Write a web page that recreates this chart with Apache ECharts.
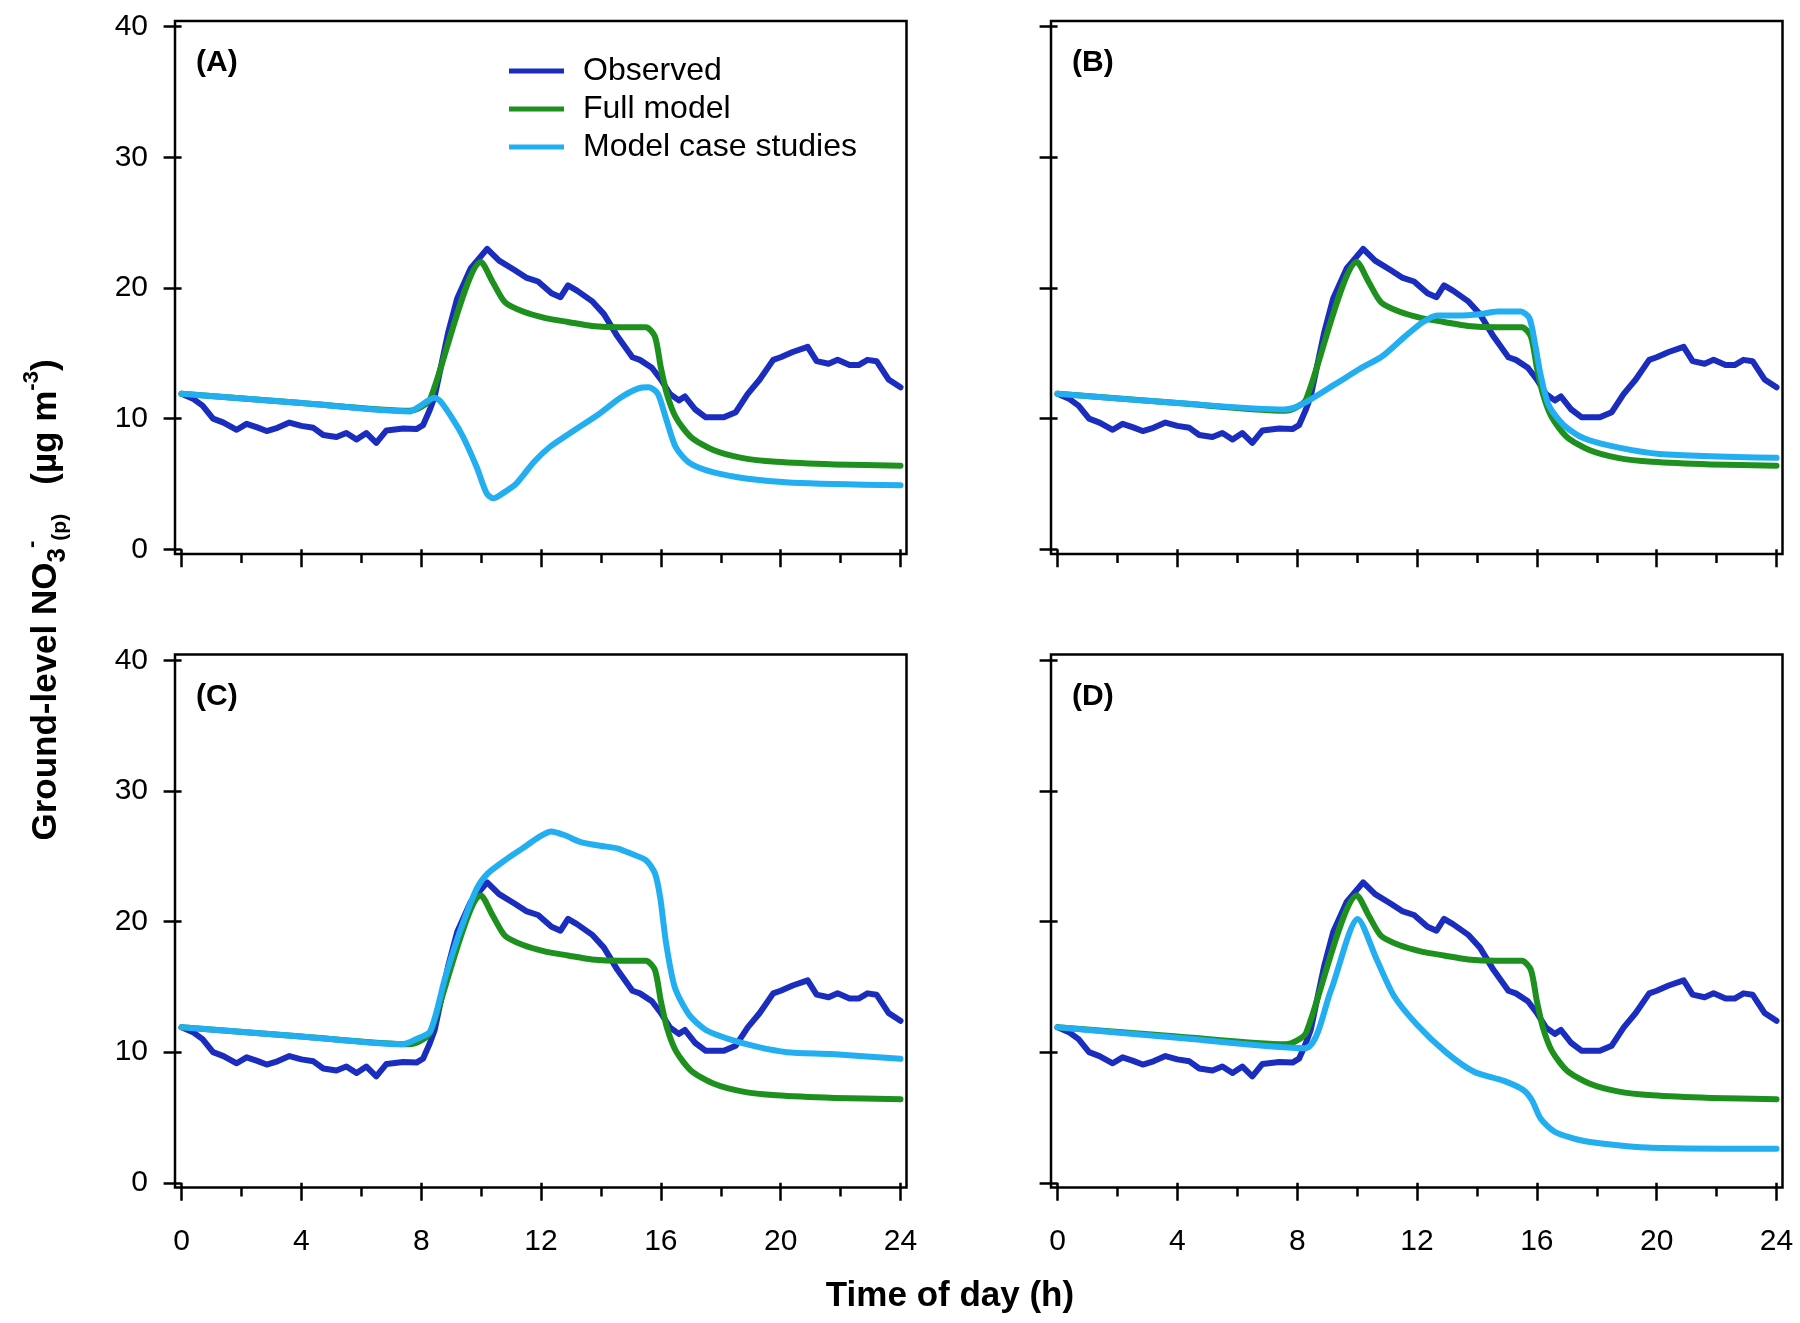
<!DOCTYPE html>
<html>
<head>
<meta charset="utf-8">
<script src="https://cdn.jsdelivr.net/npm/echarts@6/dist/echarts.min.js"></script>
<style>
html,body{margin:0;padding:0;background:#fff}
#main{width:1800px;height:1323px}
</style>
</head>
<body>
<div id="main"></div>
<script>
// observed (same in all 4 panels)
var obsHours  = [0, 0.4, 0.7, 1.05, 1.4, 1.84, 2.17, 2.5, 2.84, 3.2, 3.6, 4.0, 4.4, 4.73, 5.17, 5.5, 5.84, 6.17, 6.5, 6.84, 7.4, 7.84, 8.06, 8.29, 8.45, 8.9, 9.2, 9.65, 10.2, 10.6, 11.1, 11.5, 11.9, 12.35, 12.65, 12.9, 13.2, 13.7, 14.1, 14.55, 15.05, 15.3, 15.7, 16.0, 16.3, 16.6, 16.8, 17.15, 17.5, 18.1, 18.5, 18.9, 19.3, 19.75, 20.0, 20.4, 20.9, 21.2, 21.6, 21.9, 22.3, 22.6, 22.9, 23.2, 23.6, 24.0];
var obsValues = [11.9, 11.5, 11.0, 10.0, 9.7, 9.15, 9.6, 9.35, 9.05, 9.3, 9.7, 9.45, 9.3, 8.75, 8.6, 8.9, 8.4, 8.9, 8.15, 9.1, 9.25, 9.2, 9.5, 10.7, 11.7, 16.6, 19.2, 21.5, 23.0, 22.1, 21.4, 20.8, 20.5, 19.6, 19.3, 20.2, 19.8, 19.0, 18.0, 16.3, 14.7, 14.5, 13.9, 13.0, 11.9, 11.4, 11.7, 10.7, 10.1, 10.1, 10.5, 11.9, 13.0, 14.5, 14.7, 15.1, 15.5, 14.4, 14.2, 14.5, 14.1, 14.1, 14.5, 14.4, 13.0, 12.4];

// full model (same in all 4 panels)
var fullHours  = [0, 4, 7.6, 8.0, 8.3, 10.0, 10.4, 10.8, 11.4, 12.15, 12.9, 13.7, 14.65, 15.5, 15.8, 16.0, 16.2, 16.5, 17.0, 17.75, 18.7, 19.85, 21.8, 24];
var fullValues = [11.9, 11.2, 10.6, 10.9, 11.5, 22.0, 20.4, 18.9, 18.2, 17.7, 17.4, 17.1, 17.0, 17.0, 16.3, 13.9, 11.9, 10.1, 8.6, 7.6, 7.0, 6.7, 6.5, 6.4];

// model case studies, one per panel
var caseAHours  = [0, 4, 7.6, 7.85, 8.45, 8.65, 9.1, 9.4, 9.85, 10.18, 10.4, 10.73, 11.18, 11.77, 12.3, 13.1, 13.9, 14.65, 15.23, 15.6, 15.9, 16.2, 16.5, 16.96, 17.73, 18.9, 20.4, 24];
var caseAValues = [11.9, 11.2, 10.55, 10.8, 11.6, 11.3, 9.8, 8.6, 6.3, 4.3, 3.9, 4.3, 5.05, 6.7, 7.85, 9.1, 10.3, 11.6, 12.3, 12.4, 11.9, 9.8, 7.8, 6.6, 5.9, 5.4, 5.1, 4.9];

var caseBHours  = [0, 4, 7.58, 8.16, 9.31, 10.08, 10.85, 11.6, 12.2, 12.67, 13.35, 14.1, 14.7, 15.46, 15.75, 15.94, 16.13, 16.4, 16.9, 17.57, 18.7, 20.1, 24];
var caseBValues = [11.9, 11.2, 10.7, 11.1, 12.7, 13.8, 14.8, 16.3, 17.4, 17.9, 17.9, 18.0, 18.2, 18.2, 17.7, 15.7, 13.3, 11.0, 9.5, 8.5, 7.8, 7.3, 7.0];

var caseCHours  = [0, 4, 7.36, 7.84, 8.3, 8.8, 9.27, 9.85, 10.23, 10.8, 11.38, 11.95, 12.34, 12.8, 13.3, 13.97, 14.54, 15.0, 15.5, 15.8, 15.98, 16.17, 16.46, 16.93, 17.5, 18.28, 19.23, 20.2, 21.7, 24];
var caseCValues = [11.9, 11.2, 10.6, 11.0, 11.6, 15.7, 19.1, 22.5, 23.7, 24.7, 25.6, 26.5, 26.9, 26.6, 26.1, 25.8, 25.6, 25.2, 24.7, 23.7, 21.8, 18.4, 15.0, 12.9, 11.7, 11.0, 10.4, 10.0, 9.85, 9.5];

var caseDHours  = [0, 4, 8.26, 9.12, 10.02, 10.66, 11.23, 12.0, 12.96, 13.9, 14.9, 15.55, 15.84, 16.13, 16.6, 17.57, 19.68, 24];
var caseDValues = [11.9, 11.1, 10.3, 14.7, 20.2, 17.05, 14.3, 12.1, 10.0, 8.5, 7.8, 7.1, 6.3, 4.9, 3.9, 3.2, 2.7, 2.6];

var xMajorTicks = [0, 4, 8, 12, 16, 20, 24];
var xMinorTicks = [2, 6, 10, 14, 18, 22];
var yTicks = [0, 10, 20, 30, 40];
var panelNames = ['(A)', '(B)', '(C)', '(D)'];
var seriesNames = ['Observed', 'Full model', 'Model case studies'];

var caseHours = [caseAHours, caseBHours, caseCHours, caseDHours];
var caseValues = [caseAValues, caseBValues, caseCValues, caseDValues];

var FONT = '"Liberation Sans", Arial, sans-serif';
var colors = ['#1a2dbf', '#1e901e', '#22aef0'];

// panel frame layout
var gridPos = [[175, 21], [1051, 21], [175, 654.5], [1051, 654.5]];
var gridW = 731.5, gridH = 533;

function pairs(h, v){
	var out = [];
	for (var i = 0; i < h.length; i++){
		out.push([h[i], v[i]]);
	}
	return out;
}

var grids = [], xAxes = [], yAxes = [], series = [], graphics = [];
for (var p = 0; p < 4; p++){
	var isLeft = (p % 2 == 0);
	var isBottom = (p >= 2);
	grids.push({
		left: gridPos[p][0], top: gridPos[p][1], width: gridW, height: gridH,
		show: true, borderColor: '#000', borderWidth: 2.5, backgroundColor: 'transparent'
	});
	// major x ticks (+ labels on bottom row)
	xAxes.push({
		gridIndex: p, type: 'value', position: 'bottom', min: -0.22, max: 24.2,
		axisLine: {show: false}, splitLine: {show: false},
		axisTick: {show: true, inside: false, length: 18, customValues: xMajorTicks, lineStyle: {color: '#000', width: 2.5}},
		axisLabel: {show: isBottom, customValues: xMajorTicks, margin: 39, fontSize: 30, color: '#000', fontFamily: FONT}
	});
	// minor x ticks
	xAxes.push({
		gridIndex: p, type: 'value', position: 'bottom', min: -0.22, max: 24.2,
		axisLine: {show: false}, splitLine: {show: false},
		axisTick: {show: true, inside: false, length: 9, customValues: xMinorTicks, lineStyle: {color: '#000', width: 2.5}},
		axisLabel: {show: false}
	});
	yAxes.push({
		gridIndex: p, type: 'value', min: -0.36, max: 40.44,
		axisLine: {show: false}, splitLine: {show: false},
		axisTick: {show: true, inside: false, length: 18, customValues: yTicks, lineStyle: {color: '#000', width: 2.5}},
		axisLabel: {show: isLeft, customValues: yTicks, margin: 27, fontSize: 30, color: '#000', fontFamily: FONT}
	});
	var sets = [pairs(obsHours, obsValues), pairs(fullHours, fullValues), pairs(caseHours[p], caseValues[p])];
	for (var s = 0; s < 3; s++){
		series.push({
			name: seriesNames[s], type: 'line',
			xAxisIndex: p * 2, yAxisIndex: p,
			data: sets[s], symbol: 'none',
			smooth: s == 0 ? false : 0.25,
			z: 2 + s,
			lineStyle: {color: colors[s], width: 6, join: 'round', cap: 'round'},
			itemStyle: {color: colors[s]},
			silent: true, animation: false
		});
	}
	graphics.push({
		type: 'text', left: gridPos[p][0] + 21, top: gridPos[p][1] + 27,
		style: {text: panelNames[p], fontSize: 30, fontWeight: 'bold', fontFamily: FONT, fill: '#000'}
	});
}

// y axis title with sub/superscripts
graphics.push({
	type: 'text', x: 46, y: 600, rotation: Math.PI / 2,
	style: {
		text: 'Ground-level NO{sub|3}{sup|-}{subs|(p)}   (µg m{sup|-3})',
		align: 'center', verticalAlign: 'middle',
		fontSize: 35, fontWeight: 'bold', fontFamily: FONT, fill: '#000', lineHeight: 50,
		rich: {
			sub: {fontSize: 26, fontWeight: 'bold', fontFamily: FONT, fill: '#000', verticalAlign: 'bottom', lineHeight: 30},
			subs: {fontSize: 21, fontWeight: 'bold', fontFamily: FONT, fill: '#000', verticalAlign: 'bottom', lineHeight: 26},
			sup: {fontSize: 22, fontWeight: 'bold', fontFamily: FONT, fill: '#000', verticalAlign: 'top', lineHeight: 24}
		}
	}
});
// x axis title
graphics.push({
	type: 'text', x: 950, y: 1296,
	style: {text: 'Time of day (h)', align: 'center', verticalAlign: 'middle', fontSize: 35, fontWeight: 'bold', fontFamily: FONT, fill: '#000'}
});

var myChart = echarts.init(document.getElementById('main'));
myChart.setOption({
	animation: false,
	backgroundColor: '#fff',
	grid: grids,
	xAxis: xAxes,
	yAxis: yAxes,
	legend: {
		orient: 'vertical', left: 504, top: 50,
		icon: 'rect', itemWidth: 55, itemHeight: 5, itemGap: 6,
		data: seriesNames,
		textStyle: {fontSize: 32, color: '#000', fontFamily: FONT, padding: [0, 0, 0, 14]}
	},
	graphic: graphics,
	series: series
});
</script>
</body>
</html>
